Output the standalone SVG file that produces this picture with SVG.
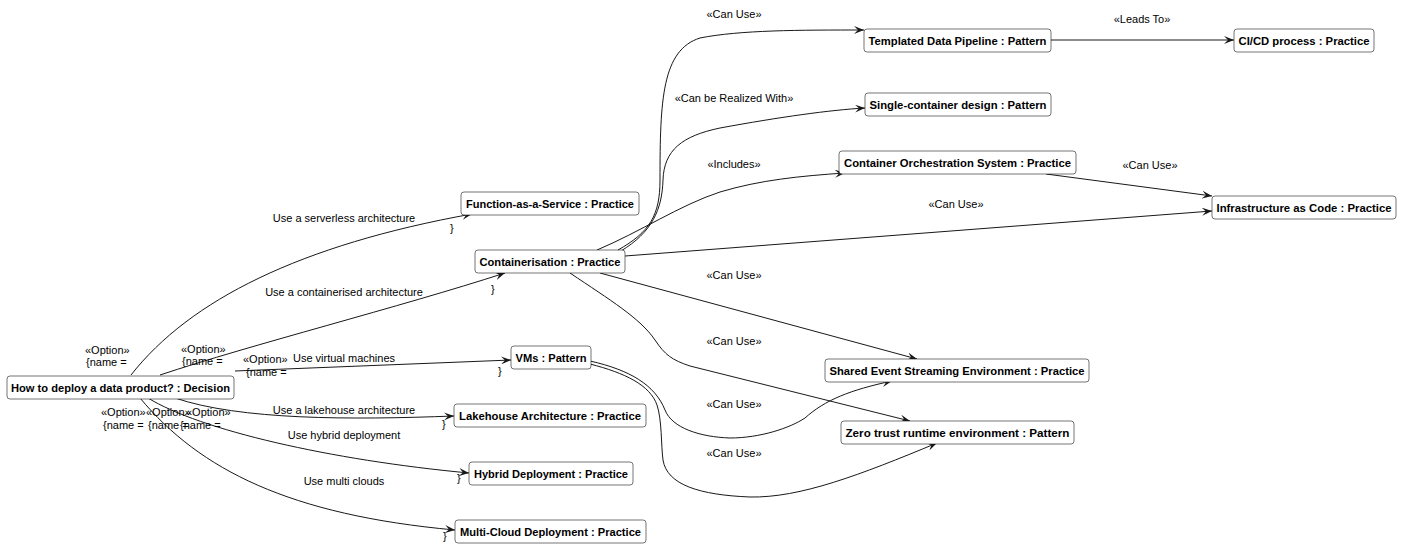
<svg xmlns="http://www.w3.org/2000/svg" width="1402" height="559" viewBox="0 0 1402 559">
  <defs>
    <style>
      .node rect { fill: #ffffff; stroke: #181818; stroke-width: 0.6; }
      .node text { font-family: "Liberation Sans", Arial, sans-serif; font-size: 11px; font-weight: bold; fill: #000000; text-anchor: middle; }
      .edges path { fill: none; stroke: #181818; stroke-width: 1; marker-end: url(#arrow); }
      .lbl { font-family: "Liberation Sans", Arial, sans-serif; font-size: 11px; fill: #000000; }
      .mid { text-anchor: middle; }
    </style>
    <marker id="arrow" viewBox="0 0 10 8" refX="10" refY="4" markerWidth="10" markerHeight="8" orient="auto" markerUnits="userSpaceOnUse">
      <path d="M0,0 L10,4 L0,8 L4,4 Z" fill="#181818"/>
    </marker>
  </defs>
  <rect width="1402" height="559" fill="#ffffff"/>

  <!-- connectors -->
  <g id="connectors" class="edges">
    <!-- decision options -->
    <path d="M131,375 C190,300 300,245 472,214"/>
    <path d="M160,375 C250,345 400,307 505,273"/>
    <path d="M235,371 L511,360"/>
    <path d="M175,398 C240,420 350,420 454,416"/>
    <path d="M148,398 C200,430 330,460 469,473"/>
    <path d="M140,398 C200,470 290,515 455,530"/>
    <!-- containerisation relations -->
    <path d="M618,250 C650,232 660,215 660,180 C660,100 662,50 700,38 C740,30 800,30 864,30"/>
    <path d="M621,251 C652,232 662,210 663,180 C664,150 682,136 720,128 C780,117 830,110 865,108"/>
    <path d="M597,250 C640,232 680,205 720,192 C760,180 800,176 845,173"/>
    <path d="M625,256 L1212,211"/>
    <path d="M600,273 L917,359"/>
    <path d="M570,273 C610,300 640,318 655,340 C665,355 672,360 690,366 L910,421"/>
    <!-- VM relations -->
    <path d="M590,361 C630,370 655,385 665,410 C672,428 700,437 730,438 C760,438 790,428 805,418 C825,400 850,390 892,381"/>
    <path d="M590,364 C625,373 650,385 657,405 C662,420 661,445 663,460 C667,485 700,495 750,497 C800,498 860,475 937,443"/>
    <!-- other relations -->
    <path d="M1051,40 L1234,40"/>
    <path d="M1046,174 L1212,196"/>
  </g>

  <!-- connector labels -->
  <g id="labels" class="lbl">
    <text x="344" y="222" class="mid">Use a serverless architecture</text>
    <text x="344" y="296" class="mid">Use a containerised architecture</text>
    <text x="344" y="362" class="mid">Use virtual machines</text>
    <text x="344" y="414" class="mid">Use a lakehouse architecture</text>
    <text x="344" y="439" class="mid">Use hybrid deployment</text>
    <text x="344" y="485" class="mid">Use multi clouds</text>

    <text x="85" y="354">«Option»</text>
    <text x="86" y="366">{name =</text>
    <text x="181" y="353">«Option»</text>
    <text x="182" y="365">{name =</text>
    <text x="243" y="363">«Option»</text>
    <text x="246" y="376">{name =</text>
    <text x="101" y="416">«Option»</text>
    <text x="103" y="429">{name =</text>
    <text x="146" y="416">«Option»</text>
    <text x="148" y="429">{name =</text>
    <text x="186" y="416">«Option»</text>
    <text x="180" y="429">{name =</text>

    <text x="450" y="232">}</text>
    <text x="491" y="293">}</text>
    <text x="498" y="375">}</text>
    <text x="442" y="428">}</text>
    <text x="457" y="482">}</text>
    <text x="443" y="540">}</text>

    <text x="734" y="18" class="mid">«Can Use»</text>
    <text x="1142" y="23" class="mid">«Leads To»</text>
    <text x="734" y="102" class="mid">«Can be Realized With»</text>
    <text x="734" y="168" class="mid">«Includes»</text>
    <text x="1150" y="169" class="mid">«Can Use»</text>
    <text x="956" y="208" class="mid">«Can Use»</text>
    <text x="734" y="279" class="mid">«Can Use»</text>
    <text x="734" y="345" class="mid">«Can Use»</text>
    <text x="734" y="408" class="mid">«Can Use»</text>
    <text x="734" y="457" class="mid">«Can Use»</text>
  </g>

  <!-- nodes -->
  <g id="decision" class="node"><rect x="7" y="376" width="227" height="23" rx="3"/><text x="120.5" y="391.5" textLength="219" lengthAdjust="spacingAndGlyphs">How to deploy a data product? : Decision</text></g>
  <g id="faas" class="node"><rect x="461" y="192" width="178" height="23" rx="3"/><text x="550" y="207.5" textLength="168" lengthAdjust="spacingAndGlyphs">Function-as-a-Service : Practice</text></g>
  <g id="containerisation" class="node"><rect x="475" y="250" width="150" height="23" rx="3"/><text x="550" y="265.5" textLength="141" lengthAdjust="spacingAndGlyphs">Containerisation : Practice</text></g>
  <g id="vms" class="node"><rect x="511" y="346" width="80" height="23" rx="3"/><text x="551" y="361.5" textLength="71" lengthAdjust="spacingAndGlyphs">VMs : Pattern</text></g>
  <g id="lakehouse" class="node"><rect x="454" y="404" width="192" height="23" rx="3"/><text x="550" y="419.5" textLength="182" lengthAdjust="spacingAndGlyphs">Lakehouse Architecture : Practice</text></g>
  <g id="hybrid" class="node"><rect x="469" y="462" width="164" height="23" rx="3"/><text x="551" y="477.5" textLength="154" lengthAdjust="spacingAndGlyphs">Hybrid Deployment : Practice</text></g>
  <g id="multicloud" class="node"><rect x="455" y="520" width="191" height="23" rx="3"/><text x="550.5" y="535.5" textLength="181" lengthAdjust="spacingAndGlyphs">Multi-Cloud Deployment : Practice</text></g>
  <g id="templated" class="node"><rect x="864" y="29" width="187" height="23" rx="3"/><text x="957.5" y="44.5" textLength="178" lengthAdjust="spacingAndGlyphs">Templated Data Pipeline : Pattern</text></g>
  <g id="cicd" class="node"><rect x="1234" y="29" width="140" height="23" rx="3"/><text x="1304" y="44.5" textLength="131" lengthAdjust="spacingAndGlyphs">CI/CD process : Practice</text></g>
  <g id="single" class="node"><rect x="865" y="93" width="186" height="23" rx="3"/><text x="958" y="108.5" textLength="177" lengthAdjust="spacingAndGlyphs">Single-container design : Pattern</text></g>
  <g id="orchestration" class="node"><rect x="839" y="151" width="237" height="23" rx="3"/><text x="957.5" y="166.5" textLength="227" lengthAdjust="spacingAndGlyphs">Container Orchestration System : Practice</text></g>
  <g id="iac" class="node"><rect x="1212" y="196" width="184" height="23" rx="3"/><text x="1304" y="211.5" textLength="175" lengthAdjust="spacingAndGlyphs">Infrastructure as Code : Practice</text></g>
  <g id="streaming" class="node"><rect x="825" y="359" width="264" height="23" rx="3"/><text x="957" y="374.5" textLength="255" lengthAdjust="spacingAndGlyphs">Shared Event Streaming Environment : Practice</text></g>
  <g id="zerotrust" class="node"><rect x="841" y="421" width="233" height="23" rx="3"/><text x="957.5" y="436.5" textLength="224" lengthAdjust="spacingAndGlyphs">Zero trust runtime environment : Pattern</text></g>
</svg>
